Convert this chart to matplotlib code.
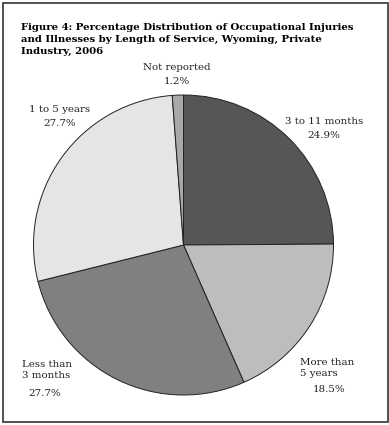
import matplotlib
matplotlib.use("Agg")
import matplotlib.pyplot as plt
from matplotlib.patches import Rectangle

labels = ["3 to 11 months", "More than 5 years", "Less than 3 months", "1 to 5 years", "Not reported"]
shares = [24.9, 18.5, 27.7, 27.7, 1.2]
colours = ["#565658", "#bdbdbf", "#808083", "#e5e5e5", "#a8a8ab"]

W, H = 389, 425
fig = plt.figure(figsize=(W / 100, H / 100), dpi=100)
fig.patch.set_facecolor("white")

def px(x, y):
    return x / W, 1 - y / H

# pie centre ~ (183.5, 245), radius ~151.5 px
cx, cy, r = 183.5, 245, 151.5
ax = fig.add_axes([(cx - r) / W, (H - cy - r) / H, 2 * r / W, 2 * r / H])
ax.pie(shares, colors=colours, startangle=90, counterclock=False,
       wedgeprops=dict(edgecolor="#222222", linewidth=0.7))
ax.set_xlim(-1.01, 1.01)
ax.set_ylim(-1.01, 1.01)
ax.set_aspect("equal")
ax.axis("off")

fig.patches.append(Rectangle((2.5 / W, 3 / H), 385 / W, 419 / H, transform=fig.transFigure,
                             fill=False, edgecolor="#333333", linewidth=1.2))

title = ("Figure 4: Percentage Distribution of Occupational Injuries\n"
         "and Illnesses by Length of Service, Wyoming, Private\n"
         "Industry, 2006")
fig.text(*px(21, 23), title, family="DejaVu Serif", weight="bold", fontsize=7.3,
         ha="left", va="top", linespacing=1.45)

lab = dict(family="DejaVu Serif", fontsize=7.4, color="#222222", linespacing=1.35)
fig.text(*px(177, 68), "Not reported", ha="center", va="center", **lab)
fig.text(*px(177, 82), f"{shares[4]}%", ha="center", va="center", **lab)
fig.text(*px(324, 121), "3 to 11 months", ha="center", va="center", **lab)
fig.text(*px(324, 135), f"{shares[0]}%", ha="center", va="center", **lab)
fig.text(*px(60, 109), "1 to 5 years", ha="center", va="center", **lab)
fig.text(*px(60, 123), f"{shares[3]}%", ha="center", va="center", **lab)
fig.text(*px(22, 370), "Less than\n3 months", ha="left", va="center", **lab)
fig.text(*px(45, 393), f"{shares[2]}%", ha="center", va="center", **lab)
fig.text(*px(300, 368), "More than\n5 years", ha="left", va="center", **lab)
fig.text(*px(329, 390), f"{shares[1]}%", ha="center", va="center", **lab)

fig.savefig("out.png", dpi=100)
